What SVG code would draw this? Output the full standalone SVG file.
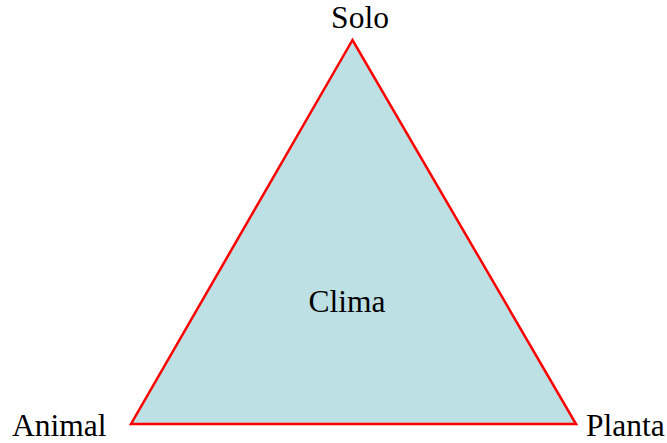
<svg xmlns="http://www.w3.org/2000/svg" width="667" height="443" viewBox="0 0 667 443">
<style>
.lbl{font-family:"Liberation Serif","Times New Roman",serif;font-size:31.5px;fill:#000}
</style>
<rect width="667" height="443" fill="#fff"/>
<g id="triangle">
<polygon points="352.5,40 131,424 576,424" fill="#bce0e3" stroke="#ff0000" stroke-width="2.5" stroke-linejoin="miter"/>
</g>
<g id="solo"><text class="lbl" x="360" y="28" text-anchor="middle">Solo</text></g>
<g id="clima"><text class="lbl" x="347" y="312" text-anchor="middle">Clima</text></g>
<g id="animal"><text class="lbl" x="12" y="436">Animal</text></g>
<g id="planta"><text class="lbl" x="586" y="436">Planta</text></g>
</svg>
